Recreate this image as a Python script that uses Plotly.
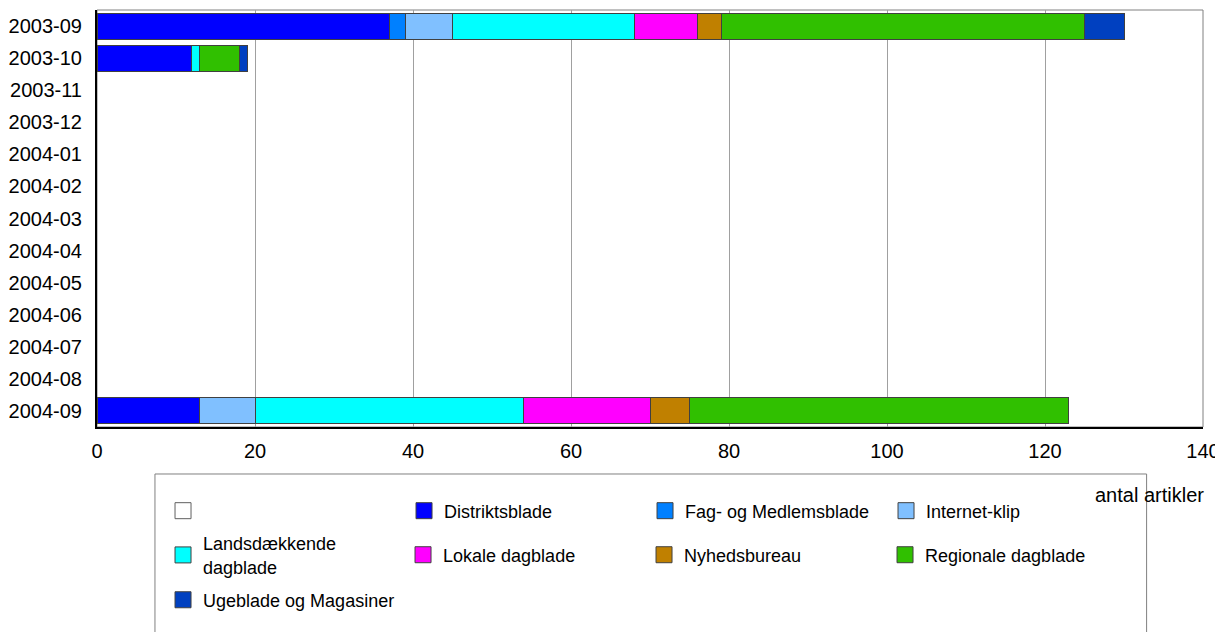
import plotly.graph_objects as go

months = ["2003-09", "2003-10", "2003-11", "2003-12", "2004-01", "2004-02", "2004-03",
          "2004-04", "2004-05", "2004-06", "2004-07", "2004-08", "2004-09"]

series_names = ["Distriktsblade", "Fag- og Medlemsblade", "Internet-klip",
                "Landsdækkende<br>dagblade", "Lokale dagblade", "Nyhedsbureau",
                "Regionale dagblade", "Ugeblade og Magasiner"]

distriktsblade = [37, 12, 0, 0, 0, 0, 0, 0, 0, 0, 0, 0, 13]
fag_medlemsblade = [2, 0, 0, 0, 0, 0, 0, 0, 0, 0, 0, 0, 0]
internet_klip = [6, 0, 0, 0, 0, 0, 0, 0, 0, 0, 0, 0, 7]
landsdaekkende = [23, 1, 0, 0, 0, 0, 0, 0, 0, 0, 0, 0, 34]
lokale = [8, 0, 0, 0, 0, 0, 0, 0, 0, 0, 0, 0, 16]
nyhedsbureau = [3, 0, 0, 0, 0, 0, 0, 0, 0, 0, 0, 0, 5]
regionale = [46, 5, 0, 0, 0, 0, 0, 0, 0, 0, 0, 0, 48]
ugeblade = [5, 1, 0, 0, 0, 0, 0, 0, 0, 0, 0, 0, 0]

colors = ["#0000FF", "#0080FF", "#80C0FF", "#00FFFF", "#FF00FF", "#C08000", "#30C000", "#0040C0"]
all_values = [distriktsblade, fag_medlemsblade, internet_klip, landsdaekkende,
              lokale, nyhedsbureau, regionale, ugeblade]

x_ticks = [0, 20, 40, 60, 80, 100, 120, 140]

# which legend block each series is listed in (empty entry is first in row 1)
legend_rows = ["legend", "legend", "legend", "legend2", "legend4", "legend4", "legend4", "legend3"]

fig = go.Figure()

# bars (legend shown via square marker entries below)
for name, vals, col in zip(series_names, all_values, colors):
    fig.add_trace(go.Bar(
        y=months, x=[v if v else None for v in vals], orientation="h", name=name,
        showlegend=False,
        marker=dict(color=col, line=dict(color="#404040", width=1))))

# legend entries with larger square swatches
fig.add_trace(go.Scatter(
    x=[None], y=[None], mode="markers", name=" ", legend="legend",
    marker=dict(symbol="square", size=16, color="white",
                line=dict(color="#606060", width=1)), hoverinfo="skip"))
for name, col, lg in zip(series_names, colors, legend_rows):
    fig.add_trace(go.Scatter(
        x=[None], y=[None], mode="markers", name=name, legend=lg,
        marker=dict(symbol="square", size=16, color=col,
                    line=dict(color="#404040", width=1)), hoverinfo="skip"))

leg_common = dict(orientation="h", xanchor="left", yanchor="middle",
                  entrywidth=196, entrywidthmode="pixels", borderwidth=0,
                  font=dict(size=18), traceorder="normal", bgcolor="rgba(0,0,0,0)")

fig.update_layout(
    barmode="stack",
    bargap=0.19,
    width=1215, height=624,
    margin=dict(l=89, r=20, t=2, b=205, autoexpand=False),
    paper_bgcolor="white", plot_bgcolor="white",
    font=dict(family="Liberation Sans, Arial, sans-serif", size=18, color="black"),
    xaxis=dict(range=[0, 140], tickvals=x_ticks, showgrid=True, gridcolor="#A0A0A0",
               gridwidth=1, zeroline=False, showline=True, linecolor="black", linewidth=2,
               ticks="", tickfont=dict(size=20), ticklabelstandoff=5),
    yaxis=dict(type="category", categoryorder="array", categoryarray=months,
               autorange="reversed",
               showgrid=False, zeroline=False, showline=True, linecolor="black",
               linewidth=2, ticks="", tickfont=dict(size=20), ticklabelstandoff=9),
    legend=dict(x=0.0597, y=-0.2014, **leg_common),
    legend2=dict(x=0.0597, y=-0.307, **leg_common),
    legend4=dict(x=0.2767, y=-0.307, **leg_common),
    legend3=dict(x=0.0597, y=-0.415, **leg_common),
    shapes=[
        dict(type="rect", xref="paper", yref="paper", x0=0, x1=1, y0=0, y1=1,
             line=dict(color="#808080", width=1), layer="below"),
        dict(type="rect", xref="paper", yref="paper", x0=0.0524, x1=0.949,
             y0=-0.1127, y1=-0.52, line=dict(color="#808080", width=1), layer="below"),
    ],
    annotations=[dict(text="antal artikler", xref="paper", yref="paper", x=1.003, y=-0.163,
                      xanchor="right", yanchor="middle", showarrow=False,
                      font=dict(size=20))],
)

fig.write_html("out.html")
